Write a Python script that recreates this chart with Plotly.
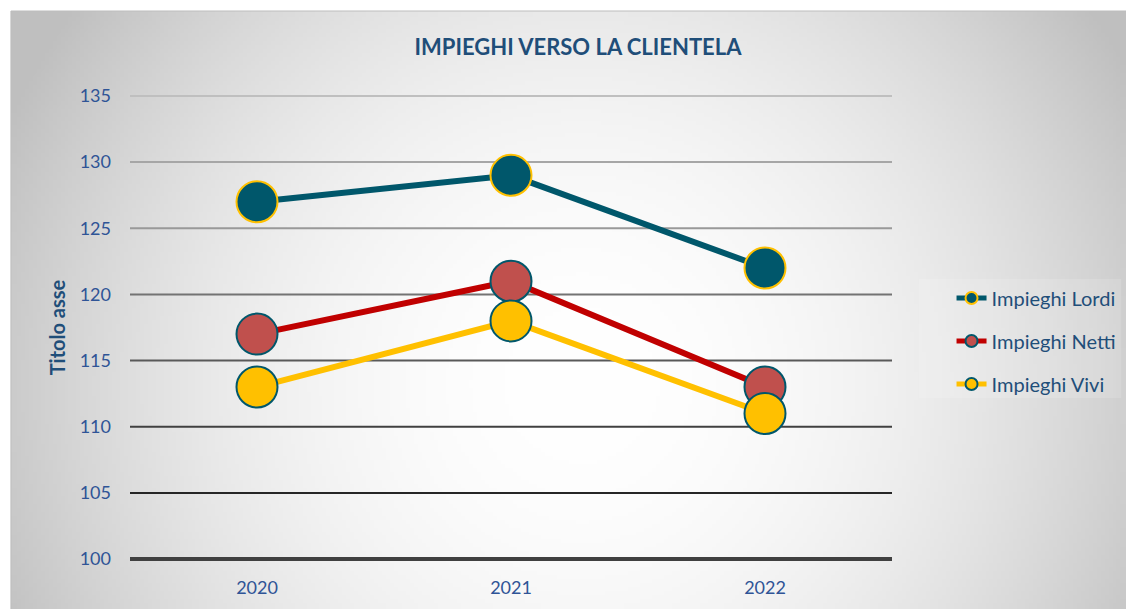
import base64, struct, zlib
import numpy as np
import plotly.graph_objects as go

# ---------------- data ----------------
years = ["2020", "2021", "2022"]
lordi = [127, 129, 122]
netti = [117, 121, 113]
vivi = [113, 118, 111]
grid_values = [105, 110, 115, 120, 125, 130, 135]
grid_colors = ["#262626", "#404040", "#595959", "#737373", "#999999", "#a6a6a6", "#bfbfbf"]

# ---------------- geometry (screen px -> figure px: page has 8px body margin) ----------------
OFF = 8
FW, FH = 1134 - OFF, 609 - OFF
ML, MR, MT, MB = 130 - OFF, FW - (898 - OFF), 80, 42
PW, PH = FW - ML - MR, FH - MT - MB

def px2paper_x(sx):
    return (sx - OFF - ML) / PW

def px2paper_y(sy):
    return 1 - (sy - OFF - MT) / PH

# ---------------- radial gradient background (PNG) ----------------
def make_png(arr):
    h, w = arr.shape
    raw = b"".join(b"\x00" + arr[j].astype(np.uint8).tobytes() for j in range(h))

    def chunk(tag, data):
        c = struct.pack(">I", len(data)) + tag + data
        return c + struct.pack(">I", zlib.crc32(tag + data) & 0xffffffff)

    png = b"\x89PNG\r\n\x1a\n"
    png += chunk(b"IHDR", struct.pack(">IIBBBBB", w, h, 8, 0, 0, 0, 0))
    png += chunk(b"IDAT", zlib.compress(raw, 9))
    png += chunk(b"IEND", b"")
    return "data:image/png;base64," + base64.b64encode(png).decode()

BX0, BY0, BX1, BY1 = 10, 11, 1134, 609   # screen coords of chart frame
W, H = 281, 150
xs = BX0 + (np.arange(W) + 0.5) * (BX1 - BX0) / W
ys = BY0 + (np.arange(H) + 0.5) * (BY1 - BY0) / H
X, Y = np.meshgrid(xs, ys)
cx, cy = 585, 385
d = np.sqrt((X - cx) ** 2 + (Y - cy) ** 2)
t = np.clip(d / 640.0, 0, 1)
img = 255 - 64 * t ** 2
bg_src = make_png(np.clip(img, 0, 255))

FONT = "Lato, Calibri, sans-serif"

fig = go.Figure()

series = [
    ("Impieghi Lordi", lordi, "#00576b", "#00576b", "#ffc000", "legend"),
    ("Impieghi Netti", netti, "#c00000", "#c0504d", "#00576b", "legend2"),
    ("Impieghi Vivi", vivi, "#ffc000", "#ffc000", "#00576b", "legend3"),
]
for name, vals, lc, mc, mlc, lg in series:
    fig.add_trace(go.Scatter(
        x=years, y=vals, name=name, mode="lines+markers",
        line=dict(color=lc, width=6),
        marker=dict(size=41, color=mc, line=dict(color=mlc, width=2)),
        legend=lg, cliponaxis=False,
    ))

shapes = []
# frame border
shapes.append(dict(type="rect", xref="paper", yref="paper",
                   x0=px2paper_x(BX0), x1=px2paper_x(BX1 + 2),
                   y0=px2paper_y(BY1 + 2), y1=px2paper_y(BY0),
                   line=dict(color="#bdbdbd", width=1), fillcolor="rgba(0,0,0,0)", layer="below"))
# legend box
shapes.append(dict(type="rect", xref="paper", yref="paper",
                   x0=px2paper_x(925), x1=px2paper_x(1129),
                   y0=px2paper_y(398), y1=px2paper_y(279),
                   line=dict(width=0), fillcolor="rgba(255,255,255,0.14)", layer="below"))
# gridlines
for v, c in zip(grid_values, grid_colors):
    shapes.append(dict(type="line", xref="paper", yref="y", x0=0, x1=1, y0=v, y1=v,
                       line=dict(color=c, width=2), layer="below"))
shapes.append(dict(type="line", xref="paper", yref="y", x0=0, x1=1, y0=100, y1=100,
                   line=dict(color="#404040", width=4), layer="below"))

legend_y = [298, 341, 384]
legends = {}
for key, ly in zip(["legend", "legend2", "legend3"], legend_y):
    legends[key] = dict(
        x=px2paper_x(958), y=px2paper_y(ly), xanchor="left", yanchor="middle",
        xref="paper", yref="paper",
        bgcolor="rgba(0,0,0,0)", borderwidth=0, itemsizing="constant",
        font=dict(family=FONT, size=20, color="#1f4e79"),
    )

fig.update_layout(
    width=FW, height=FH,
    margin=dict(l=ML, r=MR, t=MT, b=MB, pad=0),
    paper_bgcolor="white", plot_bgcolor="rgba(0,0,0,0)",
    showlegend=True,
    title=dict(text="<b>IMPIEGHI VERSO LA CLIENTELA</b>", x=(578 - OFF) / FW,
               xanchor="center", y=1 - (47 - OFF) / FH, yanchor="middle",
               font=dict(family=FONT, size=22, color="#1f4e79")),
    xaxis=dict(type="category", categoryorder="array", categoryarray=years,
               range=[-0.5, 2.5], showgrid=False, zeroline=False, showline=False,
               ticks="", ticklabelstandoff=8,
               tickfont=dict(family=FONT, size=18, color="#2f5496")),
    yaxis=dict(range=[99.4, 135.6], tickmode="array", tickvals=[100] + grid_values,
               showgrid=False, zeroline=False, showline=False, ticks="",
               ticklabelstandoff=18,
               tickfont=dict(family=FONT, size=18, color="#2f5496"),
               title=dict(text="<b>Titolo asse</b>", standoff=8,
                          font=dict(family=FONT, size=20, color="#1f4e79"))),
    shapes=shapes,
    images=[dict(source=bg_src, xref="paper", yref="paper",
                 x=px2paper_x(BX0), y=px2paper_y(BY0),
                 sizex=(BX1 - BX0) / PW, sizey=(BY1 - BY0) / PH,
                 xanchor="left", yanchor="top", sizing="stretch", layer="below")],
    **legends,
)

fig.write_html("out.html")
